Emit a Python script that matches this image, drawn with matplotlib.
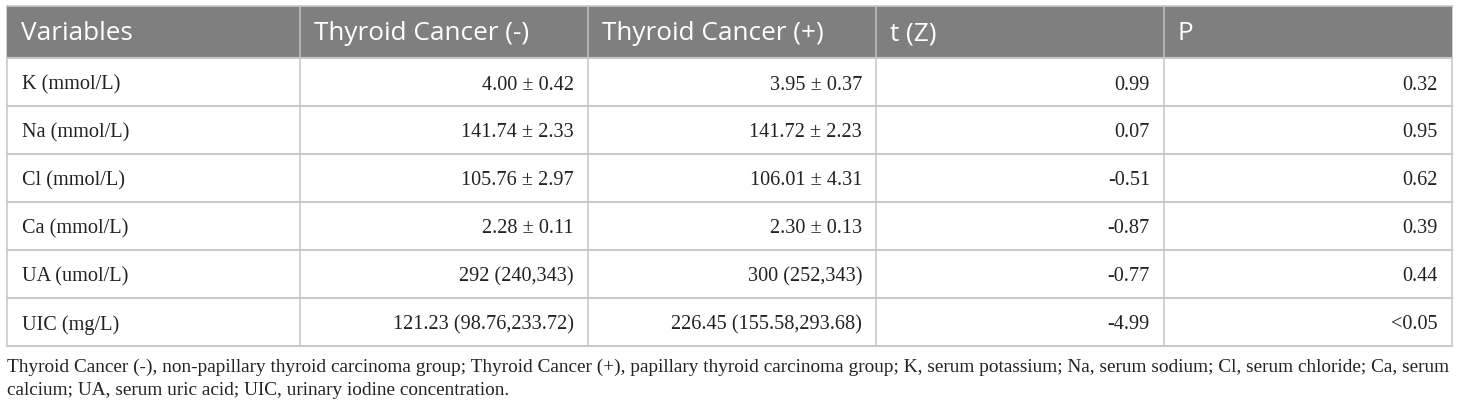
import matplotlib
matplotlib.use('Agg')
import matplotlib.pyplot as plt
from matplotlib.patches import Rectangle

# contenido de la tabla
headers = ['Variables', 'Thyroid Cancer (-)', 'Thyroid Cancer (+)', 't (Z)', 'P']
variables = ['K (mmol/L)', 'Na (mmol/L)', 'Cl (mmol/L)', 'Ca (mmol/L)',
             'UA (umol/L)', 'UIC (mg/L)']
cancer_neg = ['4.00 ± 0.42', '141.74 ± 2.33', '105.76 ± 2.97', '2.28 ± 0.11',
              '292 (240,343)', '121.23 (98.76,233.72)']
cancer_pos = ['3.95 ± 0.37', '141.72 ± 2.23', '106.01 ± 4.31', '2.30 ± 0.13',
              '300 (252,343)', '226.45 (155.58,293.68)']
t_z = ['0.99', '0.07', '-0.51', '-0.87', '-0.77', '-4.99']
p_val = ['0.32', '0.95', '0.62', '0.39', '0.44', '<0.05']
footnote = ['Thyroid Cancer (-), non-papillary thyroid carcinoma group; Thyroid Cancer (+), '
            'papillary thyroid carcinoma group; K, serum potassium; Na, serum sodium; '
            'Cl, serum chloride; Ca, serum',
            'calcium; UA, serum uric acid; UIC, urinary iodine concentration.']

W, H = 1460, 410
fig = plt.figure(figsize=(W/100., H/100.), dpi=100)
ax = fig.add_axes([0, 0, 1, 1])
ax.set_xlim(0, W)
ax.set_ylim(H, 0)
ax.axis('off')

cols = [7, 300, 588, 876, 1164, 1452]
top = 7
head_h = 52
row_h = 48
grid = '#c9c9c9'
nrows = len(variables)
bottom = top + head_h + nrows*row_h

# cabecera gris
ax.add_patch(Rectangle((cols[0], top), cols[-1]-cols[0], head_h,
                       facecolor='#7f7f7f', edgecolor='none'))
for i, h in enumerate(headers):
    ax.text(cols[i]+14, top+head_h/2.+1, h, color='white', fontsize=18.8,
            family='Open Sans', ha='left', va='center')

# lineas de la tabla
for x in cols:
    ax.plot([x, x], [top, bottom], color=grid, lw=1.2, zorder=0)
for x in cols[1:-1]:
    ax.plot([x, x], [top, top+head_h], color='#bdbdbd', lw=1.2)
for r in range(nrows+1):
    y = top + head_h + r*row_h
    ax.plot([cols[0], cols[-1]], [y, y], color=grid, lw=1.5)
ax.plot([cols[0], cols[-1]], [top, top], color=grid, lw=1.2)

# filas
columnas = [cancer_neg, cancer_pos, t_z, p_val]
for r in range(nrows):
    yc = top + head_h + r*row_h + row_h/2. + 2
    ax.text(cols[0]+15, yc, variables[r], fontsize=14.6, family='Liberation Serif',
            ha='left', va='center', color='#222222')
    for j, col in enumerate(columnas):
        ax.text(cols[j+2]-14, yc, col[r], fontsize=14.6, family='Liberation Serif',
                ha='right', va='center', color='#222222')

# nota al pie
for k, line in enumerate(footnote):
    ax.text(cols[0], bottom+20+k*24, line, fontsize=13.85, family='Liberation Serif',
            ha='left', va='center', color='#222222')

fig.savefig('out.png', dpi=100)
